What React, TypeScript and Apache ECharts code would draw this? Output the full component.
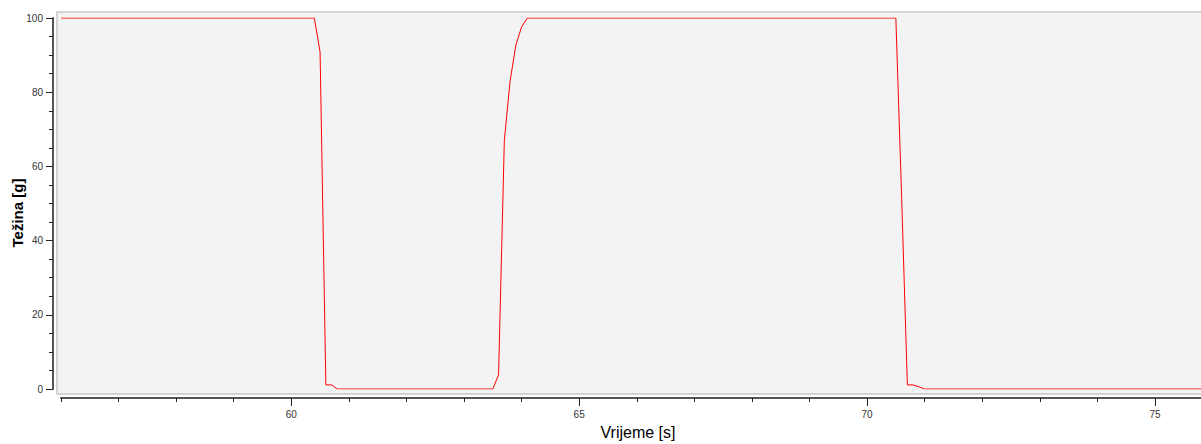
import React, { useEffect, useRef } from "react";
import * as echarts from "echarts";

const times = [56, 60.4, 60.5, 60.6, 60.7, 60.8, 63.5, 63.6, 63.7, 63.8, 63.9, 64.0, 64.1, 70.5, 70.6, 70.7, 70.8, 70.9, 71.0, 75.8];
const weights = [100, 100, 90.8, 1.1, 1.1, 0, 0, 3.8, 67, 83, 92.7, 97.6, 100, 100, 52, 1.1, 1.1, 0.6, 0, 0];
const xMajorTicks = [60, 65, 70, 75];
const xMinorTicks = [56, 57, 58, 59, 61, 62, 63, 64, 66, 67, 68, 69, 71, 72, 73, 74];
const xTitle = "Vrijeme [s]";
const yTitle = "Težina [g]";

const FONT = "'Liberation Sans Narrow', 'Liberation Sans', Arial, sans-serif";

export default function App() {
  const ref = useRef<HTMLDivElement>(null);
  useEffect(() => {
    if (!ref.current) return;
    const chart = echarts.init(ref.current, undefined, { renderer: "svg" });
    const data = times.map((t, i) => [t, weights[i]]);
    chart.setOption({
      animation: false,
      backgroundColor: "#ffffff",
      grid: { left: 61, right: 0, top: 18, bottom: 55, containLabel: false },
      graphic: [
        {
          type: "rect",
          z: -10,
          shape: { x: 57, y: 12, width: 1150, height: 382 },
          style: { fill: "#f3f3f3", stroke: "#d4d4d4", lineWidth: 2 },
        },
        {
          type: "text",
          x: 638,
          y: 432,
          style: {
            text: xTitle,
            font: "16px 'Liberation Sans', Arial, sans-serif",
            fill: "#000",
            align: "center",
            verticalAlign: "middle",
          },
        },
        {
          type: "text",
          x: 17,
          y: 213,
          rotation: Math.PI / 2,
          style: {
            text: yTitle,
            font: "bold 15px 'Liberation Sans', Arial, sans-serif",
            fill: "#000",
            align: "center",
            verticalAlign: "middle",
          },
        },
      ],
      xAxis: [
        {
          type: "value",
          min: 56,
          max: 75.8,
          offset: 9,
          position: "bottom",
          axisLine: { show: true, onZero: false, lineStyle: { color: "#555", width: 2 } },
          axisTick: { show: true, customValues: xMajorTicks, length: 8, lineStyle: { color: "#222", width: 1 } },
          axisLabel: { show: true, customValues: xMajorTicks, margin: 11, fontSize: 10, fontFamily: FONT, color: "#333" },
          splitLine: { show: false },
        },
        {
          type: "value",
          min: 56,
          max: 75.8,
          offset: 9,
          position: "bottom",
          axisLine: { show: false, onZero: false },
          axisTick: { show: true, customValues: xMinorTicks, length: 4, lineStyle: { color: "#222", width: 1 } },
          axisLabel: { show: false },
          splitLine: { show: false },
        },
      ],
      yAxis: {
        type: "value",
        min: 0,
        max: 100,
        interval: 20,
        offset: 8,
        axisLine: { show: true, onZero: false, lineStyle: { color: "#555", width: 2 } },
        axisTick: { show: true, length: 7, lineStyle: { color: "#222", width: 1 } },
        minorTick: { show: true, splitNumber: 4, length: 4, lineStyle: { color: "#222", width: 1 } },
        axisLabel: { margin: 10, fontSize: 10, fontFamily: FONT, color: "#333" },
        splitLine: { show: false },
      },
      series: [
        {
          type: "line",
          data,
          xAxisIndex: 0,
          showSymbol: false,
          symbol: "none",
          lineStyle: { color: "#ff0000", width: 1 },
          itemStyle: { color: "#ff0000" },
        },
      ],
    });
    return () => chart.dispose();
  }, []);
  return <div ref={ref} style={{ width: 1201, height: 444, position: "absolute", left: 0, top: 0 }} />;
}
